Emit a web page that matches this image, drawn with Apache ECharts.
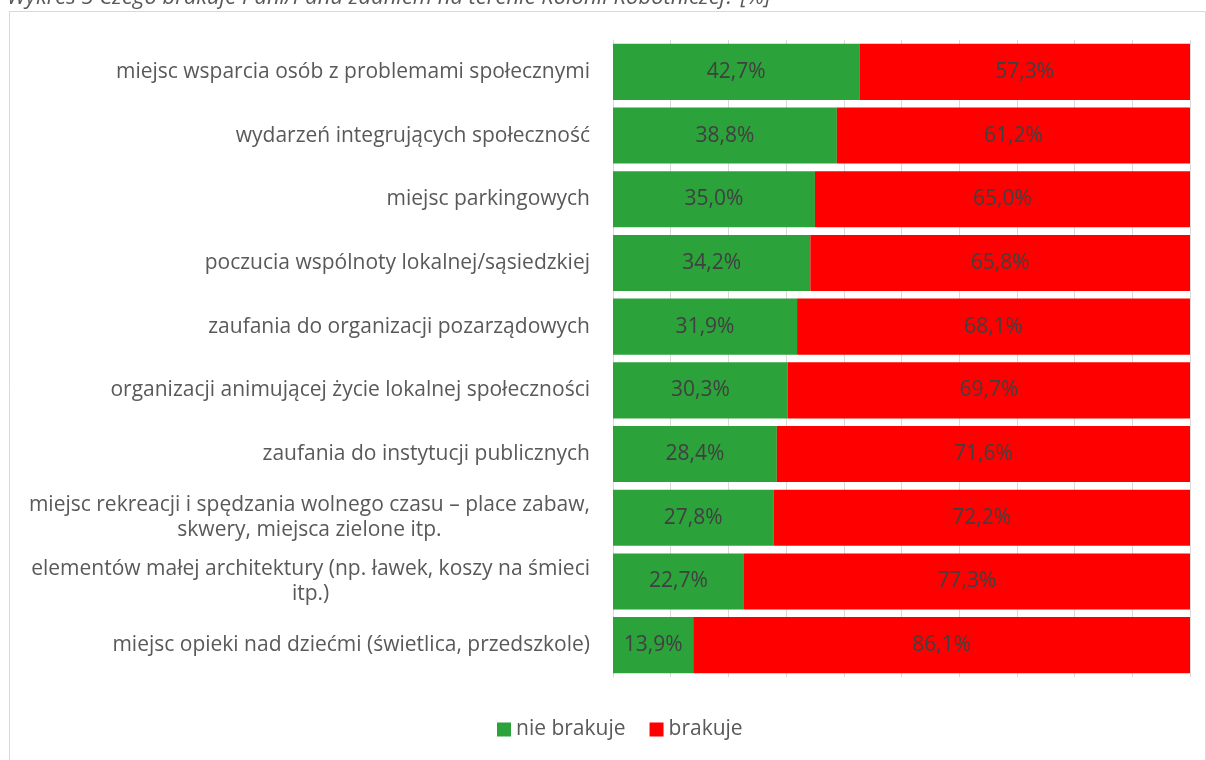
<!DOCTYPE html>
<html><head><meta charset="utf-8">
<script src="https://cdn.jsdelivr.net/npm/echarts@6/dist/echarts.min.js"></script>
<style>html,body{margin:0;padding:0;background:#fff}#c{width:1206px;height:760px}</style>
</head><body><div id="c"></div>
<script>
const titleText = 'Wykres 5 Czego brakuje Pani/Panu zdaniem na terenie Kolonii Robotniczej? [%]';
const categories = [
  'miejsc wsparcia osób z problemami społecznymi',
  'wydarzeń integrujących społeczność',
  'miejsc parkingowych',
  'poczucia wspólnoty lokalnej/sąsiedzkiej',
  'zaufania do organizacji pozarządowych',
  'organizacji animującej życie lokalnej społeczności',
  'zaufania do instytucji publicznych ',
  'miejsc rekreacji i spędzania wolnego czasu – place zabaw, skwery, miejsca zielone itp.',
  'elementów małej architektury (np. ławek, koszy na śmieci itp.)',
  'miejsc opieki nad dziećmi (świetlica, przedszkole)'
];
const seriesNames = ['nie brakuje', 'brakuje'];
const nieBrakuje = [42.7, 38.8, 35.0, 34.2, 31.9, 30.3, 28.4, 27.8, 22.7, 13.9];
const brakuje = [57.3, 61.2, 65.0, 65.8, 68.1, 69.7, 71.6, 72.2, 77.3, 86.1];

const FONT = "'Open Sans', sans-serif";
const FS = 21;
const WRAP = 580;
const ctx = document.createElement('canvas').getContext('2d');
ctx.font = FS + 'px ' + FONT;
function wrapLabel(text) {
  const words = text.trim().split(' ');
  const lines = [];
  let cur = '';
  for (const w of words) {
    const t = cur ? cur + ' ' + w : w;
    if (cur && ctx.measureText(t).width > WRAP) { lines.push(cur); cur = w; }
    else cur = t;
  }
  if (cur) lines.push(cur);
  return lines.map(l => '{c|' + l + '}').join('\n');
}

const chart = echarts.init(document.getElementById('c'));
const fmt = p => p.value.toFixed(1).replace('.', ',') + '%';
chart.setOption({
  animation: false,
  graphic: [{
    type: 'rect', shape: {x: 9.5, y: 11.5, width: 1196, height: 760},
    style: {fill: 'none', stroke: '#d9d9d9', lineWidth: 1}, silent: true, z: -1
  }, {
    type: 'text', left: 7, top: -13, silent: true,
    style: {text: titleText, font: 'italic 22px ' + FONT, fill: '#595959'}
  }],
  legend: {
    bottom: 15, left: 492, itemWidth: 14, itemHeight: 14, itemGap: 24,
    icon: 'rect',
    textStyle: {fontFamily: FONT, fontSize: FS, color: '#595959', padding: [0, 0, 0, 0]},
    data: seriesNames
  },
  grid: {left: 613, right: 16, top: 40, bottom: 83, containLabel: false},
  xAxis: {
    type: 'value', min: 0, max: 100, interval: 10,
    axisLabel: {show: false}, axisTick: {show: false}, axisLine: {show: false},
    splitLine: {show: true, lineStyle: {color: '#d9d9d9', width: 1}}
  },
  yAxis: {
    type: 'category', inverse: true, data: categories,
    axisTick: {show: false},
    axisLine: {show: true, lineStyle: {color: '#d9d9d9', width: 1}},
    axisLabel: {
      margin: 23, lineHeight: 25,
      fontFamily: FONT, fontSize: FS, color: '#595959',
      formatter: v => wrapLabel(v),
      rich: {c: {align: 'center', fontFamily: FONT, fontSize: FS, color: '#595959', lineHeight: 25}}
    }
  },
  series: [
    {name: seriesNames[0], type: 'bar', stack: 't', data: nieBrakuje, barCategoryGap: '12%',
     itemStyle: {color: '#2ca23a'},
     label: {show: true, position: 'inside', formatter: fmt, fontFamily: FONT, fontSize: FS, color: '#404040'}},
    {name: seriesNames[1], type: 'bar', stack: 't', data: brakuje, barCategoryGap: '12%',
     itemStyle: {color: '#ff0000'},
     label: {show: true, position: 'inside', formatter: fmt, fontFamily: FONT, fontSize: FS, color: '#404040'}}
  ]
});
</script></body></html>
